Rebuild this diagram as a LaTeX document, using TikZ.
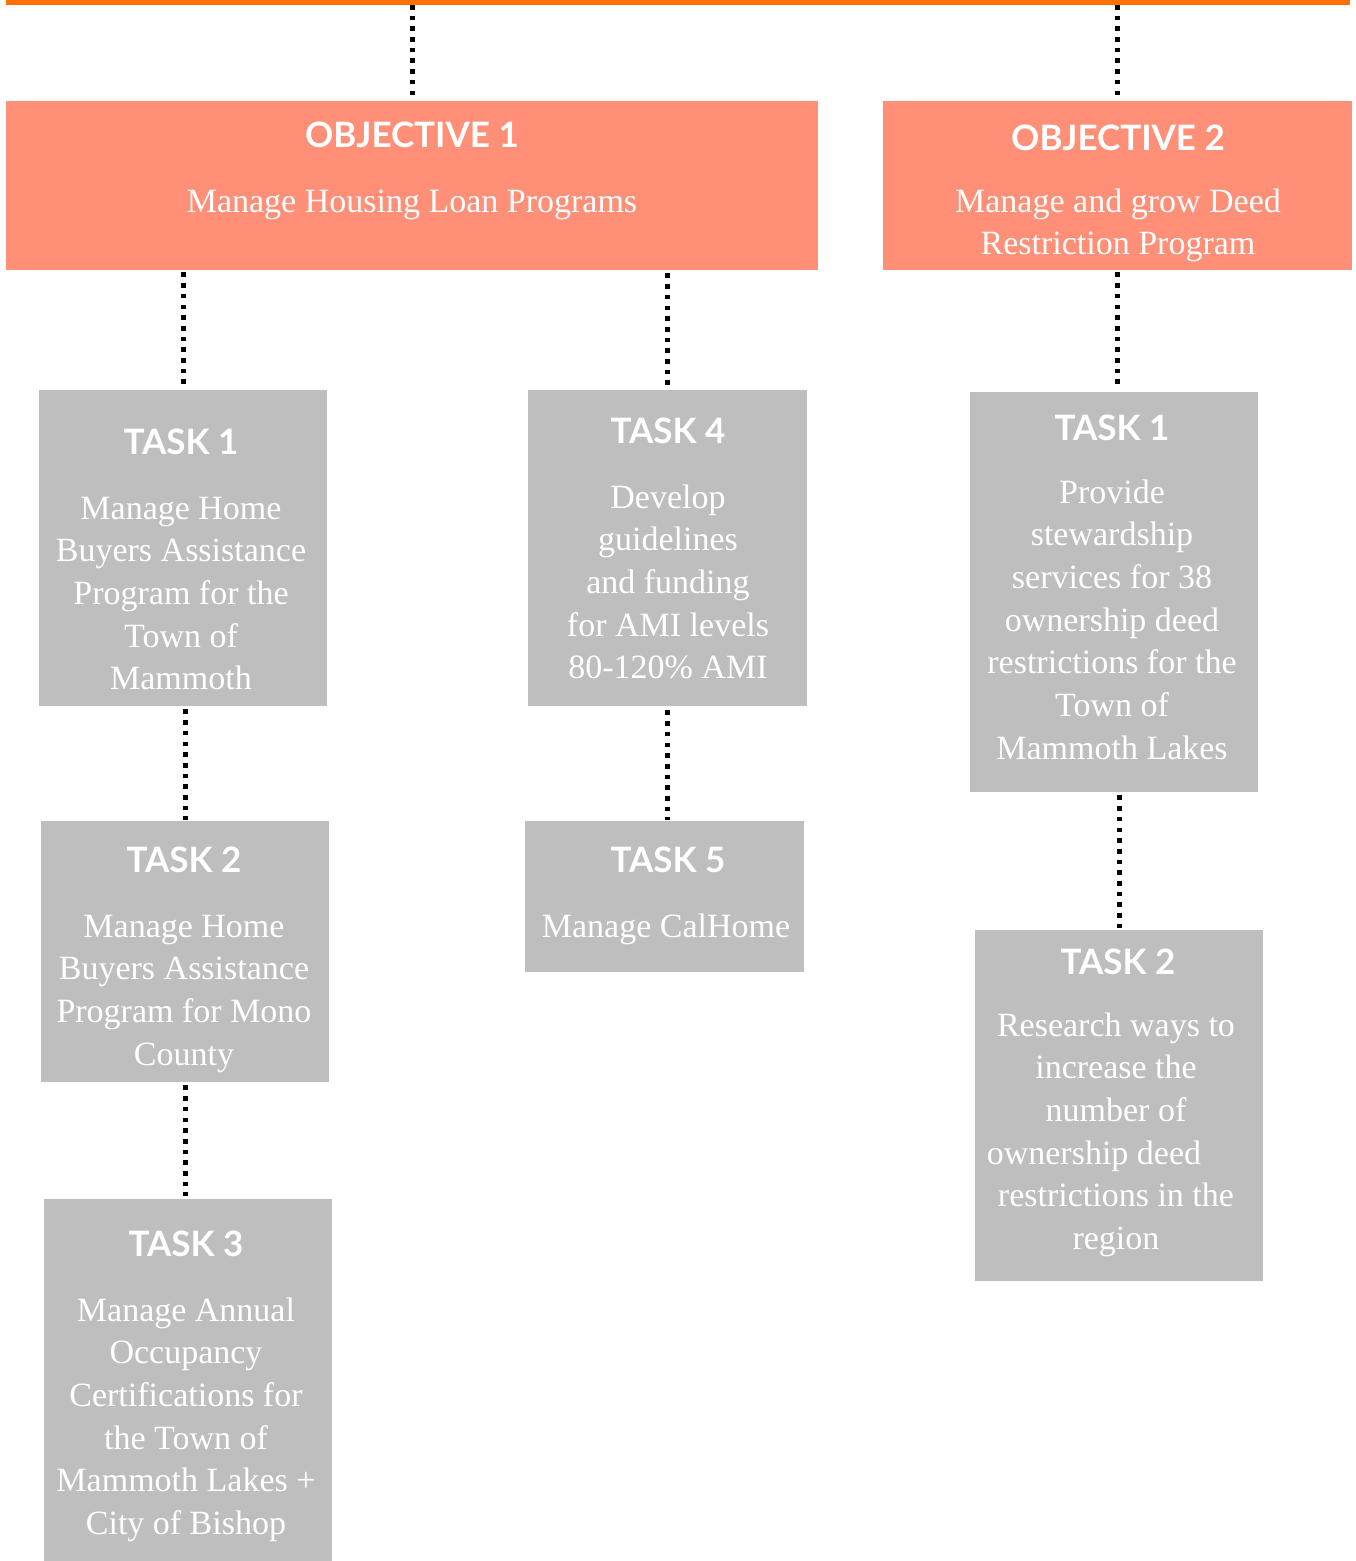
\documentclass[tikz,border=0pt]{standalone}
\usepackage{fontspec}
\setmainfont{Liberation Serif}
\newfontfamily\headfont{Lato}
\definecolor{topbar}{HTML}{FF7000}
\definecolor{objfill}{HTML}{FF8F77}
\definecolor{taskfill}{HTML}{BEBEBE}
\newcommand{\bodysize}{\fontsize{34}{42.7}\selectfont}
\tikzset{
  objbox/.style={fill=objfill, draw=none, inner sep=0pt, anchor=north west},
  taskbox/.style={fill=taskfill, draw=none, inner sep=0pt, anchor=north west},
  headtxt/.style={text=white, inner sep=0pt, anchor=base,
    font=\headfont\bfseries\fontsize{35}{42}\selectfont},
  bodytxt/.style={text=white, inner sep=0pt, anchor=base, align=center,
    text width=#1, font=\bodysize,
    execute at begin node={\spaceskip=0.25em\relax\xspaceskip=0.25em\relax}},
  bodytxt/.default=330pt,
  dotline/.style={line width=4.6pt, dash pattern=on 4.6pt off 6.1pt, black},
}
\begin{document}
\begin{tikzpicture}[x=1pt, y=-1pt]
\useasboundingbox (0,0) rectangle (1355,1561);

% orange rule along the top
\node[fill=topbar, inner sep=0pt, minimum width=1344pt, minimum height=4.5pt,
      anchor=north west] (bar) at (6,0) {};

% objectives
\node[objbox, minimum width=812pt, minimum height=169pt] (obj1) at (6,101) {};
\node[objbox, minimum width=469pt, minimum height=169pt] (obj2) at (883,101) {};

% tasks of objective 1
\node[taskbox, minimum width=288pt, minimum height=316pt] (t1) at (39,390) {};
\node[taskbox, minimum width=288pt, minimum height=261pt] (t2) at (41,821) {};
\node[taskbox, minimum width=288pt, minimum height=362pt] (t3) at (44,1199) {};
\node[taskbox, minimum width=279pt, minimum height=316pt] (t4) at (528,390) {};
\node[taskbox, minimum width=279pt, minimum height=151pt] (t5) at (525,821) {};

% tasks of objective 2
\node[taskbox, minimum width=288pt, minimum height=400pt] (p1) at (970,392) {};
\node[taskbox, minimum width=288pt, minimum height=351pt] (p2) at (975,930) {};

% texts
\node[headtxt] (obj1h) at (412,147.5) {OBJECTIVE 1};
\node[bodytxt=800pt] (obj1b) at (412,212) {Manage Housing Loan Programs};
\node[headtxt] (obj2h) at (1118,150.5) {OBJECTIVE 2};
\node[bodytxt=460pt] (obj2b) at (1118,212) {Manage and grow Deed\\Restriction Program};

\node[headtxt] (t1h) at (181,454.5) {TASK 1};
\node[bodytxt] (t1b) at (181,519) {Manage Home\\Buyers Assistance\\Program for the\\Town of\\Mammoth};

\node[headtxt] (t2h) at (184,872.5) {TASK 2};
\node[bodytxt] (t2b) at (184,937) {Manage Home\\Buyers Assistance\\Program for Mono\\County};

\node[headtxt] (t3h) at (186,1256.5) {TASK 3};
\node[bodytxt] (t3b) at (186,1321) {Manage Annual\\Occupancy\\Certifications for\\the Town of\\Mammoth Lakes +\\City of Bishop};

\node[headtxt] (t4h) at (668,443.5) {TASK 4};
\node[bodytxt] (t4b) at (668,508) {Develop\\guidelines\\and funding\\for AMI levels\\80-120\% AMI};

\node[headtxt] (t5h) at (668,872.5) {TASK 5};
\node[bodytxt] (t5b) at (666,937) {Manage CalHome};

\node[headtxt] (p1h) at (1112,440.5) {TASK 1};
\node[bodytxt] (p1b) at (1112,503) {Provide\\stewardship\\services for 38\\ownership deed\\restrictions for the\\Town of\\Mammoth Lakes};

\node[headtxt] (p2h) at (1118,974.5) {TASK 2};
\node[bodytxt] (p2b) at (1116,1036) {Research ways to\\increase the\\number of\\ownership deed\makebox[44pt]{}\\restrictions in the\\region};

% dotted connectors
\draw[dotline] (bar.south -| obj1.north) -- (obj1.north);
\draw[dotline] (bar.south -| obj2.north) -- (obj2.north);
\draw[dotline, shorten <=2pt, shorten >=4pt] (obj1.south -| t1.north) -- (t1.north);
\draw[dotline, shorten <=3pt, shorten >=1pt] (t1.south -| t2.north) -- (t2.north);
\draw[dotline, shorten <=3pt, shorten >=3pt] (t2.south) -- (t2.south |- t3.north);
\draw[dotline, shorten <=3pt, shorten >=4pt] (obj1.south -| t4.north) -- (t4.north);
\draw[dotline, shorten <=4pt, shorten >=1pt] (t4.south) -- (t4.south |- t5.north);
\draw[dotline, shorten <=2pt, shorten >=2pt] (obj2.south) -- (obj2.south |- p1.north);
\draw[dotline, shorten <=3pt, shorten >=1pt] (p1.south -| p2.north) -- (p2.north);
\end{tikzpicture}
\end{document}
